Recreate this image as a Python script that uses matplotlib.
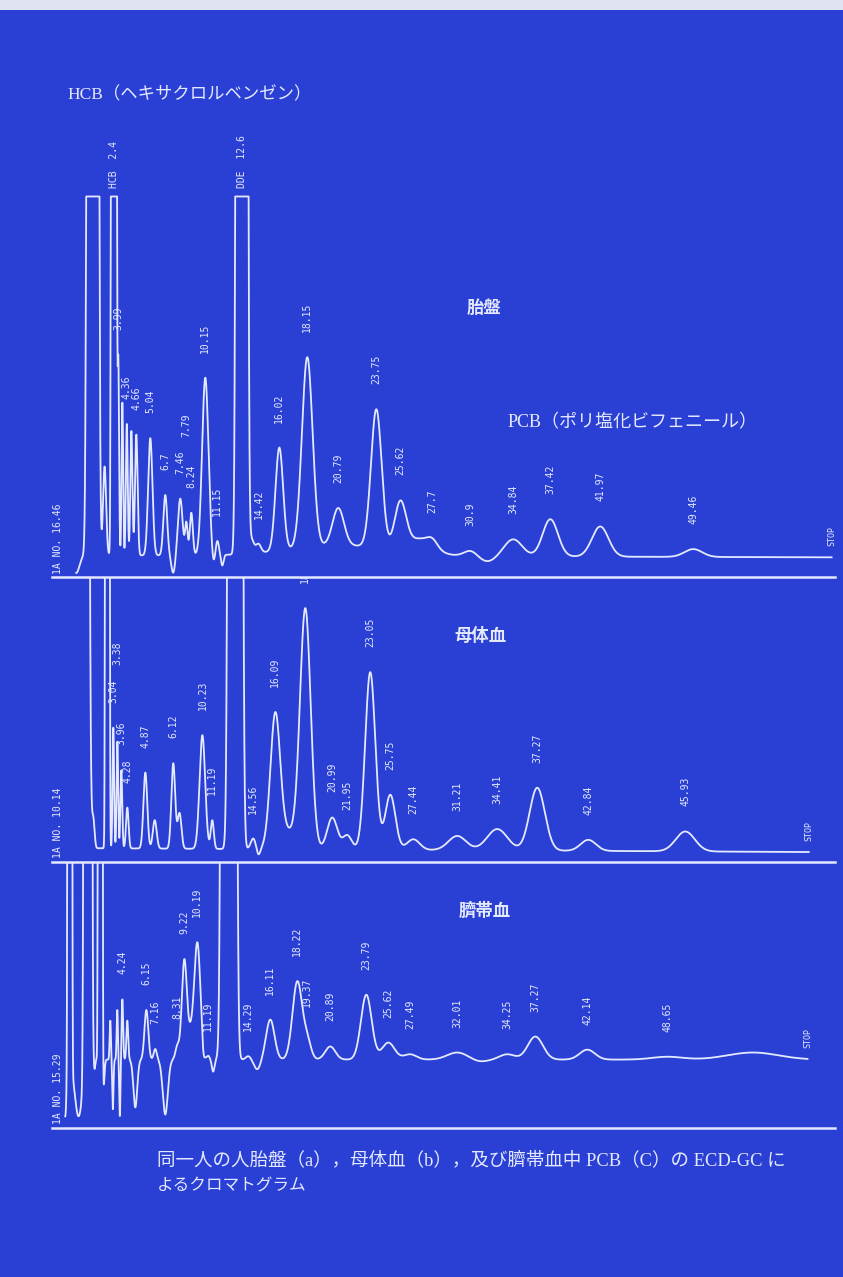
"""ECD-GC chromatograms of PCB in placenta, maternal blood and cord blood"""
import numpy as np
import matplotlib.pyplot as plt
from matplotlib.patches import Rectangle

BG = '#2a40d4'
FG = '#e4e9ff'
CLIP = 101          # recorder full scale
JP = ['Noto Sans CJK JP', 'DejaVu Sans']
SERIF = ['Liberation Serif', 'Noto Sans CJK JP']

## (a) placenta : peak position (min), height, sigma, printed label
a_pos = [-0.28, 1.02, 1.95, 2.68, 3.03, 3.35, 3.70, 4.06, 4.45, 5.55, 6.73, 7.36, 7.91,
         8.39, 8.78, 9.88, 10.51, 10.83, 11.22, 12.76, 13.50, 14.06, 15.71, 17.91,
         20.35, 20.5, 23.35, 25.24, 26.80, 27.76, 30.75, 32.10, 34.13, 37.05, 40.98, 48.31]
a_hgt = [-5, 1e4, 25, 1e4, 55, 43, 37, 35, 34, 33, 17, -5, 16,
         9, 12, 50, -3, 4, -3, 1e4, 4, 2.5, 29, 53.5,
         10.5, 3, 39, 13, 4, 2, 1.5, -1.5, 4.8, 10.5, 8.5, 2.2]
a_wid = [0.25, 0.175, 0.12, 0.083, 0.06, 0.06, 0.07, 0.08, 0.10, 0.17, 0.15, 0.15, 0.18,
         0.10, 0.12, 0.25, 0.12, 0.12, 0.10, 0.175, 0.2, 0.2, 0.30, 0.42,
         0.45, 4.0, 0.42, 0.45, 1.0, 0.4, 0.5, 0.6, 0.7, 0.6, 0.65, 0.7]
a_lab = ['', '', '', 'HCB  2.4', '3.99', '', '4.36', '', '4.66', '5.04', '6.7', '', '7.46',
         '7.79', '8.24', '10.15', '', '11.15', '', 'DDE  12.6', '', '14.42', '16.02', '18.15',
         '20.79', '', '23.75', '25.62', '', '27.7', '30.9', '', '34.84', '37.42', '41.97', '49.46']
a_span = (-0.28, 59.2)
a_drift = -0.6

## (b) maternal blood
b_pos = [-0.51, 0.12, 1.06, 2.17, 2.64, 2.96, 3.27, 3.74, 5.16, 5.9, 7.36, 7.85, 9.65,
         10.43, 12.24, 13.66, 14.06, 15.39, 16.3, 17.76, 19.88, 21.06, 22.87, 24.45,
         26.26, 29.72, 32.87, 36.02, 40.04, 47.68]
b_hgt = [-3, 1e4, 8, 1e4, 34, 30, 22, 11.5, 21.4, 8, 24, 10, 32,
         8, 1e4, 3, -2, 36, 5, 67, 9, 4, 50, 15.5,
         3, 4, 6, 17.7, 3.1, 5.6]
b_wid = [0.2, 0.22, 0.1, 0.065, 0.06, 0.06, 0.07, 0.1, 0.15, 0.15, 0.15, 0.15, 0.22,
         0.12, 0.21, 0.2, 0.15, 0.38, 0.8, 0.42, 0.4, 0.35, 0.4, 0.4,
         0.5, 0.7, 0.8, 0.6, 0.6, 0.75]
b_lab = ['', '', '', '', '3.04', '3.38', '3.96', '4.28', '4.87', '', '6.12', '', '10.23',
         '11.19', '', '14.56', '', '16.09', '', '18.17', '20.99', '21.95', '23.05', '25.75',
         '27.44', '31.21', '34.41', '37.27', '42.84', '45.93']
b_span = (-0.51, 57.4)
b_drift = -1.1

## (c) cord blood
c_pos = [-1.15, -0.79, -0.1, 0.63, 1.15, 1.61, 1.85, 2.40, 2.60, 2.95, 3.15, 3.35, 3.74,
         4.37, 5.24, 5.94, 6.73, 7.68, 8.23, 8.7, 9.25, 9.72, 10.12, 10.5, 11.73, 13.27,
         13.98, 15.0, 17.13, 17.91, 19.72, 22.56, 24.29, 26.0, 29.72, 31.5, 33.66, 35.87,
         39.96, 46.26, 53.0]
c_hgt = [-16, 1e4, -16, 1e4, -3, 1e4, -9, 11, -14, 14, -16, 17, 11,
         -13.5, 14, 3, -15.5, 3.7, 28, 6, 33, -3, 1, -3.4, 1e4, 1,
         -2.8, 11.3, 22, 5, 3.7, 18.3, 4.8, 1.5, 2, -0.6, 1.5, 6.5,
         2.8, 0.8, 2]
c_wid = [0.1, 0.065, 0.3, 0.117, 0.06, 0.065, 0.08, 0.05, 0.05, 0.05, 0.05, 0.06, 0.07,
         0.15, 0.15, 0.12, 0.2, 0.15, 0.2, 0.2, 0.25, 0.1, 0.1, 0.1, 0.22, 0.2,
         0.25, 0.33, 0.38, 0.3, 0.4, 0.42, 0.5, 0.5, 0.8, 0.6, 0.6, 0.6,
         0.6, 1.2, 2.0]
c_lab = ['', '', '', '', '', '', '', '', '', '', '', '4.24', '',
         '', '6.15', '7.16', '', '8.31', '9.22', '', '10.19', '', '11.19', '', '', '14.29',
         '', '16.11', '18.22', '19.37', '20.89', '23.79', '25.62', '27.49', '32.01', '', '34.25', '37.27',
         '42.14', '48.65', '']
c_span = (-1.15, 57.3)
c_drift = 0.0

run_ids = ['1A NO. 16.46', '1A NO. 10.14', '1A NO. 15.29']
titles = ['胎盤', '母体血', '臍帯血']

# labels printed higher up to clear their neighbours in the crowded early part
lift = [{'7.79': 61}, {'3.38': 55}, {}]


def trace(span, pos, hgt, wid, drift):
    t = np.linspace(span[0], span[1], 12000)
    y = drift * (t - span[0]) / (span[1] - span[0])
    for p, h, w in zip(pos, hgt, wid):
        y = y + h * np.exp(-0.5 * ((t - p) / w) ** 2)
    return t, np.minimum(y, CLIP)


fig = plt.figure(figsize=(8.43, 12.77), dpi=100, facecolor=BG)
fig.patches.append(Rectangle((0, 0.992), 1, 0.008, transform=fig.transFigure,
                             facecolor='#dfe3f2', edgecolor='none'))

# axes boxes (left, bottom, width, height) and y ranges
boxes = [(0.062, 0.548, 0.929, 0.366),
         (0.062, 0.325, 0.929, 0.223),
         (0.062, 0.117, 0.929, 0.208)]
ylims = [(-6.2, 125.4), (-3.9, 76.3), (-19.2, 55.8)]
data = [(a_span, a_pos, a_hgt, a_wid, a_lab, a_drift),
        (b_span, b_pos, b_hgt, b_wid, b_lab, b_drift),
        (c_span, c_pos, c_hgt, c_wid, c_lab, c_drift)]

for k in range(3):
    span, pos, hgt, wid, lab, drift = data[k]
    ax = fig.add_axes(boxes[k])
    ax.set_facecolor('none')
    ax.set_xlim(-2.17, 59.5)
    ax.set_ylim(*ylims[k])
    for s in ['top', 'left', 'right']:
        ax.spines[s].set_visible(False)
    ax.spines['bottom'].set_color(FG)
    ax.spines['bottom'].set_linewidth(1.8)
    ax.set_xticks([])
    ax.set_yticks([])

    t, y = trace(span, pos, hgt, wid, drift)
    ax.plot(t, y, color=FG, lw=1.3, clip_on=True)

    for p, l in zip(pos, lab):
        if not l:
            continue
        top = np.interp(p, t, y)
        off = 6 if top >= CLIP else lift[k].get(l, 18)
        ax.annotate(l, (p, top), xytext=(0, off), textcoords='offset points',
                    rotation=90, ha='center', va='bottom', fontsize=7,
                    family='DejaVu Sans Mono', color=FG, clip_on=True)
    ax.annotate('STOP', (t[-1], y[-1]), xytext=(0, 8), textcoords='offset points',
                rotation=90, ha='center', va='bottom', fontsize=6,
                family='DejaVu Sans Mono', color=FG)
    ax.text(-1.75, ylims[k][0] + 1, run_ids[k], rotation=90, ha='center', va='bottom',
            fontsize=7, family='DejaVu Sans Mono', color=FG)

W, H = 843, 1277
fig.text(67 / W, 1 - 95 / H, 'HCB（ヘキサクロルベンゼン）', family=SERIF, fontsize=12.5,
         color=FG, va='center', ha='left')
fig.text(484 / W, 1 - 308 / H, titles[0], family=JP, fontsize=12.5, color=FG,
         ha='center', va='center', weight='bold')
fig.text(508 / W, 1 - 423 / H, 'PCB（ポリ塩化ビフェニール）', family=SERIF, fontsize=13,
         color=FG, va='center', ha='left')
fig.text(481 / W, 1 - 636 / H, titles[1], family=JP, fontsize=12.5, color=FG,
         ha='center', va='center', weight='bold')
fig.text(485 / W, 1 - 911 / H, titles[2], family=JP, fontsize=12.5, color=FG,
         ha='center', va='center', weight='bold')
fig.text(157 / W, 1 - 1160 / H,
         '同一人の人胎盤（a），母体血（b），及び臍帯血中 PCB（C）の ECD-GC に',
         family=SERIF, fontsize=13.3, color=FG, va='center', ha='left')
fig.text(157 / W, 1 - 1186 / H, 'よるクロマトグラム', family=SERIF, fontsize=12,
         color=FG, va='center', ha='left')

fig.savefig('out.png', dpi=100, facecolor=fig.get_facecolor())
